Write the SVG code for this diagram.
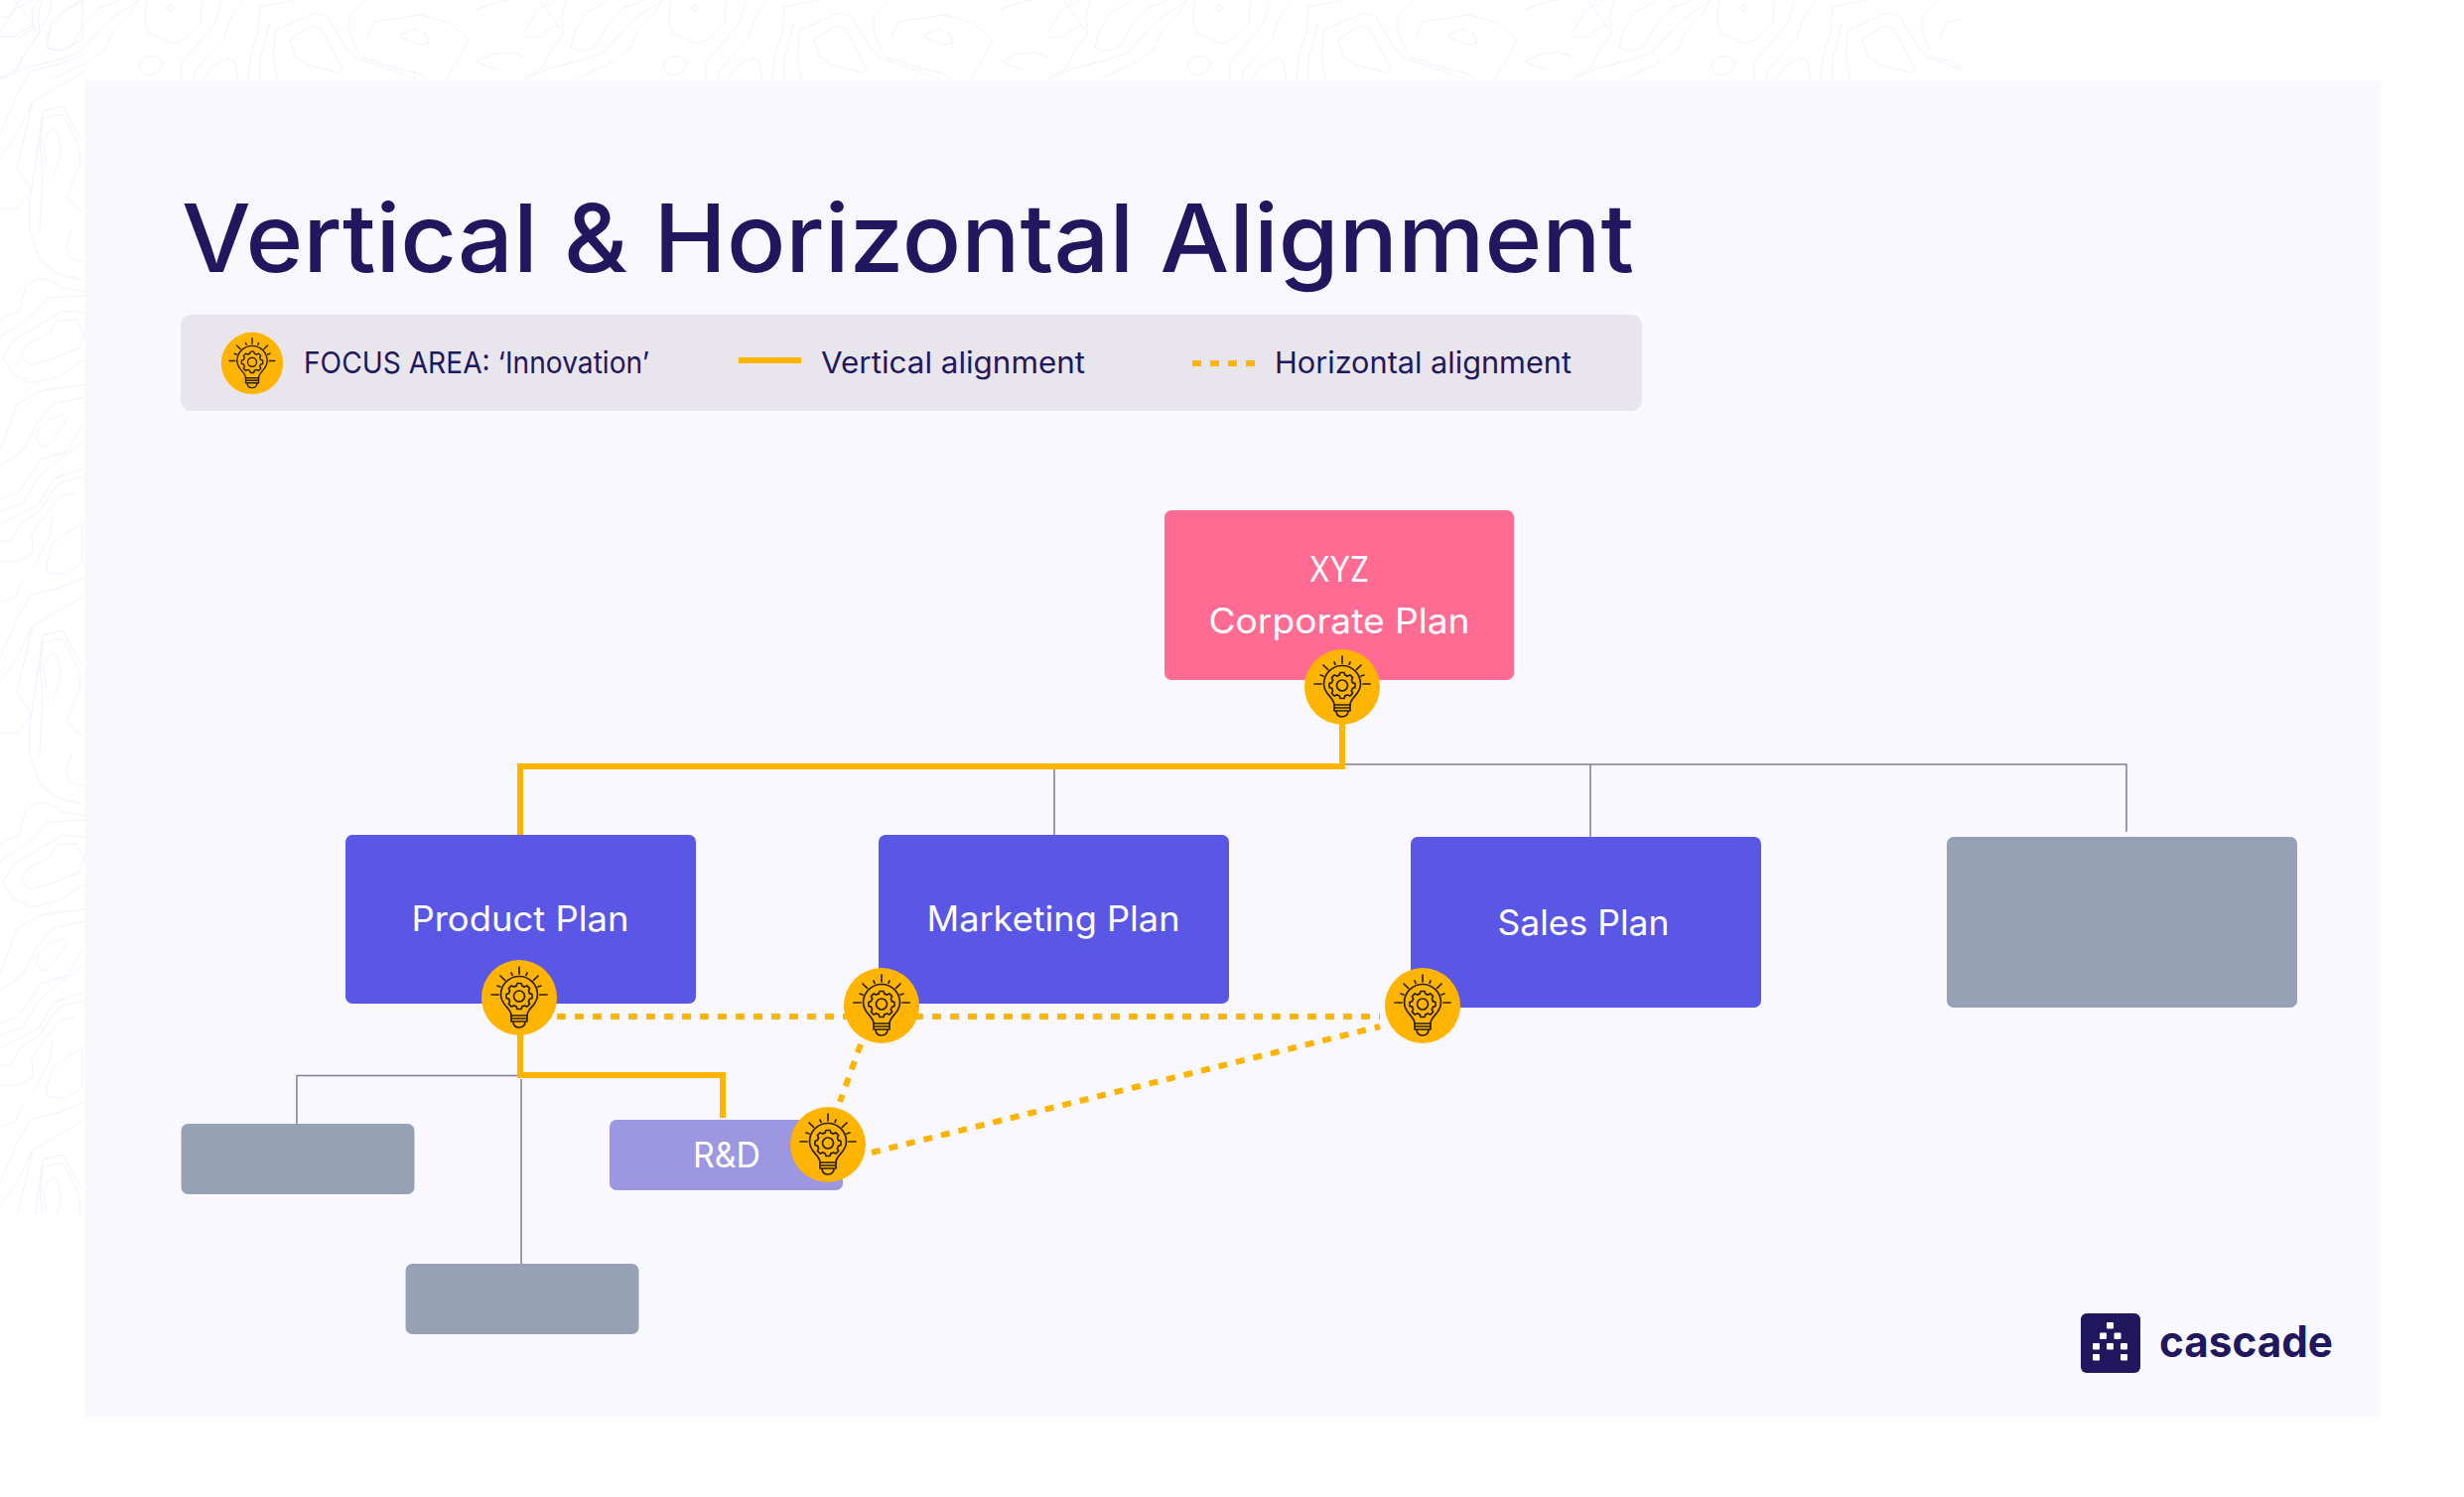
<svg xmlns="http://www.w3.org/2000/svg" xmlns:xlink="http://www.w3.org/1999/xlink" width="2482" height="1508" viewBox="0 0 2482 1508">
<style>
.t{font-family:Inter,"Liberation Sans",sans-serif;}
.title{font-size:95px;font-weight:500;fill:#20175e;}
.leg{font-size:30px;font-weight:400;fill:#20175e;}
.lbl{font-size:35px;font-weight:400;fill:#fff;text-anchor:middle;}
.logo{font-size:44px;font-weight:700;fill:#20175e;}
.topo polyline,.topo circle{fill:none;stroke:#f2f0fd;stroke-width:1;stroke-linejoin:round;stroke-linecap:round;}
.v{fill:none;stroke:#ffb400;stroke-width:6;stroke-linejoin:miter;}
.h{fill:none;stroke:#ffb400;stroke-width:6;stroke-dasharray:9 9;}
.thin{fill:none;stroke:#7f7c9e;stroke-width:1.5;}
.ic{fill:none;stroke:#2b2013;stroke-width:1.7;stroke-linecap:round;stroke-linejoin:round;}
</style>
<defs>
<path id="tooth" d="M-2.9 -10.4L-2 -13H2L2.9 -10.4A10.8 10.8 0 0 1 5.3 -9.4"/>
<g id="bulb">
<circle r="38" fill="#ffb400"/>
<g class="ic">
<path d="M-8 18C-8 10 -18.5 8 -18.5 -3A18.5 18.5 0 0 1 18.5 -3C18.5 8 8 10 8 18Z"/>
<path d="M-8 18V24H8V18M-8 21H8M-6 24C-6 28 -4 30 0 30C4 30 6 28 6 24"/>
<path d="M0 -31V-24M-8 -25L-7 -22.7M8 -25L7 -22.7M-19 -22L-14.5 -17.7M19 -22L14.5 -17.7M-22 -12L-19 -11M22 -12L19 -11M-28 -3H-21M28 -3H21"/>
<g transform="translate(0 -1.5)">
<circle r="5.5"/>
<use href="#tooth"/><use href="#tooth" transform="rotate(45)"/><use href="#tooth" transform="rotate(90)"/><use href="#tooth" transform="rotate(135)"/><use href="#tooth" transform="rotate(180)"/><use href="#tooth" transform="rotate(225)"/><use href="#tooth" transform="rotate(270)"/><use href="#tooth" transform="rotate(315)"/>
</g>
</g>
</g>
<g id="tileH" class="topo">
<circle cx="172" cy="8" r="3"/>
<polyline points="147,0 146,23 150,33 175,44 187,38 202,23 203,0"/>
<polyline points="140,65 147,57 157,56 164,63 160,72 150,76 142,72 140,65"/>
<polyline points="183,80 183,63 200,43 217,23 223,0"/>
<polyline points="195,80 197,70 213,52 225,40 233,17 245,0"/>
<polyline points="205,80 213,67 230,58 237,62 240,80"/>
<polyline points="250,80 252,57 260,33 262,7 297,0"/>
<polyline points="262,80 262,60 272,23 270,25"/>
<polyline points="280,80 275,57 278,30 317,13 330,17 350,50 363,60 387,68 420,80"/>
<polyline points="292,40 312,26 323,28 345,70 340,73 310,65 297,57 292,40"/>
<polyline points="367,0 352,17 352,33 363,57 403,70 420,73 430,80"/>
<polyline points="370,37 377,22 423,15 453,23 472,40 450,80"/>
<polyline points="403,35 417,29 428,33 432,43 423,45 405,38 403,35"/>
<polyline points="0,33 13,10 33,0"/>
<polyline points="0,37 13,37 33,25 37,30 23,10 15,0"/>
<polyline points="47,48 50,33 63,12 80,3 85,0"/>
<polyline points="47,48 60,52 73,45 85,23 100,8 120,0"/>
<polyline points="0,78 17,70 27,50 40,33 38,17 42,0"/>
<polyline points="0,80 27,68 53,62 80,53 100,30 110,20 140,0"/>
<polyline points="50,80 90,62 107,48 115,30 130,15 140,0"/>
<polyline points="480,10 498,3 512,0"/>
<polyline points="500,70 480,62 495,55 515,52 528,57"/>
</g>
<g id="tileV" class="topo">
<polyline points="0,42 20,32 25,10 37,0 50,2 63,10 85,13"/>
<polyline points="0,60 33,37 47,20 85,18"/>
<polyline points="85,35 63,33 40,47 13,63 3,80 13,97 30,106 57,100 85,83"/>
<polyline points="22,75 27,67 50,55 57,43 77,42 85,57 80,70 57,80 30,88 22,80 22,75"/>
<polyline points="0,173 10,147 17,127 43,113 85,108"/>
<polyline points="0,190 23,173 37,147 53,127 85,120"/>
<polyline points="38,153 50,142 63,138 67,143 50,167 42,170 37,163 38,153"/>
<polyline points="0,222 17,217 30,200 40,183 67,175 83,148"/>
<polyline points="0,235 23,227 37,203 50,190 83,165"/>
<polyline points="0,248 20,238 40,227 53,203 83,192"/>
<polyline points="0,265 10,265 20,248 40,235 53,213 63,205 83,200"/>
<polyline points="0,285 20,285 33,277 32,257 50,233 60,220 75,217"/>
<polyline points="33,293 50,260 53,240"/>
<polyline points="48,297 47,287 53,267 83,247 83,287 67,298 48,297"/>
<polyline points="0,327 15,322 22,305"/>
<polyline points="0,383 17,343 30,320 60,312 85,302"/>
<polyline points="0,407 20,377 33,350 85,320"/>
<polyline points="30,480 30,450 40,383 43,360 63,355 78,383 83,390"/>
<polyline points="40,480 43,417 40,393 43,367 63,363 80,397 80,413 67,447 87,465"/>
<polyline points="53,425 62,403 57,380 52,377 43,390 47,413"/>
<polyline points="0,458 17,458 32,440 17,417 33,350"/>
<polyline points="30,480 40,510 60,525 85,530"/>
<polyline points="72,480 67,495 70,508 85,512"/>
</g>
<clipPath id="topC"><rect x="0" y="0" width="1976" height="81"/></clipPath>
<clipPath id="leftC"><rect x="0" y="0" width="85" height="1225"/></clipPath>
</defs>
<rect width="2482" height="1508" fill="#fff"/>
<g id="background">
<g clip-path="url(#topC)">
<use href="#tileH"/><use href="#tileH" x="528"/><use href="#tileH" x="1056"/><use href="#tileH" x="1584"/>
</g>
<g clip-path="url(#leftC)">
<use href="#tileV" y="-248"/><use href="#tileV" y="280"/><use href="#tileV" y="808"/>
</g>
<rect x="85" y="81" width="2312" height="1346" fill="#faf8ff"/>
</g>
<text id="title" class="t title" x="183" y="274" textLength="1463" lengthAdjust="spacingAndGlyphs">Vertical &amp; Horizontal Alignment</text>
<g id="legend">
<rect x="182" y="317" width="1472" height="97" rx="11" fill="#e8e6ec"/>
<use href="#bulb" transform="translate(254 366) scale(.82)"/>
<text class="t leg" x="306" y="376" textLength="348" lengthAdjust="spacingAndGlyphs">FOCUS AREA: ‘Innovation’</text>
<path class="v" d="M744 363H807"/>
<text class="t leg" x="827" y="376" textLength="266" lengthAdjust="spacingAndGlyphs">Vertical alignment</text>
<path class="h" d="M1201 366H1267"/>
<text class="t leg" x="1284" y="376" textLength="299" lengthAdjust="spacingAndGlyphs">Horizontal alignment</text>
</g>
<g id="corporate-box"><rect x="1173" y="514" width="352" height="171" rx="7" fill="#ff6b93"/>
<text class="t lbl" x="1349" y="586" textLength="60" lengthAdjust="spacingAndGlyphs">XYZ</text>
<text class="t lbl" x="1349" y="638" textLength="263" lengthAdjust="spacingAndGlyphs">Corporate Plan</text></g>
<g id="product-box"><rect x="348" y="841" width="353" height="170" rx="7" fill="#5b57e6"/>
<text class="t lbl" x="524" y="938" textLength="219" lengthAdjust="spacingAndGlyphs">Product Plan</text></g>
<g id="marketing-box"><rect x="885" y="841" width="353" height="170" rx="7" fill="#5b57e6"/>
<text class="t lbl" x="1061" y="938" textLength="255" lengthAdjust="spacingAndGlyphs">Marketing Plan</text></g>
<g id="sales-box"><rect x="1421" y="843" width="353" height="172" rx="7" fill="#5b57e6"/>
<text class="t lbl" x="1595" y="942" textLength="173" lengthAdjust="spacingAndGlyphs">Sales Plan</text></g>
<rect id="grey-box-1" x="1961" y="843" width="353" height="172" rx="7" fill="#97a1b5"/>
<rect id="grey-box-2" x="182.500" y="1132" width="235" height="71" rx="7" fill="#97a1b5"/>
<rect id="grey-box-3" x="408.500" y="1273" width="235" height="71" rx="7" fill="#97a1b5"/>
<g id="rd-box"><rect x="614" y="1128" width="235" height="71" rx="7" fill="#9d97e2"/>
<text class="t lbl" x="732" y="1176" textLength="68" lengthAdjust="spacingAndGlyphs">R&amp;D</text></g>
<g id="connectors">
<path class="thin" d="M1352 770H2142V838M1062 770V841M1602 770V843M524 1083.500H299V1132M525 1087V1273"/>
<path class="v" d="M1352 700V772H524V841"/>
<path class="v" d="M524 1020V1083H728V1126"/>
<path class="h" d="M561 1024H1390"/>
<path class="h" d="M867 1052L846 1110" stroke-dasharray="12 7"/>
<path class="h" d="M878 1161L1390 1034"/>
</g>
<g id="bulb-corporate"><use href="#bulb" x="1352" y="692"/></g>
<g id="bulb-product"><use href="#bulb" x="523" y="1005"/></g>
<g id="bulb-marketing"><use href="#bulb" x="888" y="1013"/></g>
<g id="bulb-sales"><use href="#bulb" x="1433" y="1013"/></g>
<g id="bulb-rd"><use href="#bulb" x="834" y="1153"/></g>
<g id="logo">
<rect x="2096" y="1323" width="60" height="60" rx="6" fill="#20175e"/>
<g fill="#fff">
<rect x="2122" y="1332" width="7" height="6.500" rx="1"/><rect x="2115" y="1342.500" width="7" height="6.500" rx="1"/><rect x="2129.500" y="1342.500" width="7" height="6.500" rx="1"/><rect x="2108" y="1353" width="7" height="6.500" rx="1"/><rect x="2122" y="1353" width="7" height="6.500" rx="1"/><rect x="2136" y="1353" width="7" height="6.500" rx="1"/><rect x="2108" y="1364" width="7" height="6.500" rx="1"/><rect x="2136" y="1364" width="7" height="6.500" rx="1"/>
</g>
<text class="t logo" x="2175" y="1367" textLength="175" lengthAdjust="spacingAndGlyphs">cascade</text>
</g>
</svg>
